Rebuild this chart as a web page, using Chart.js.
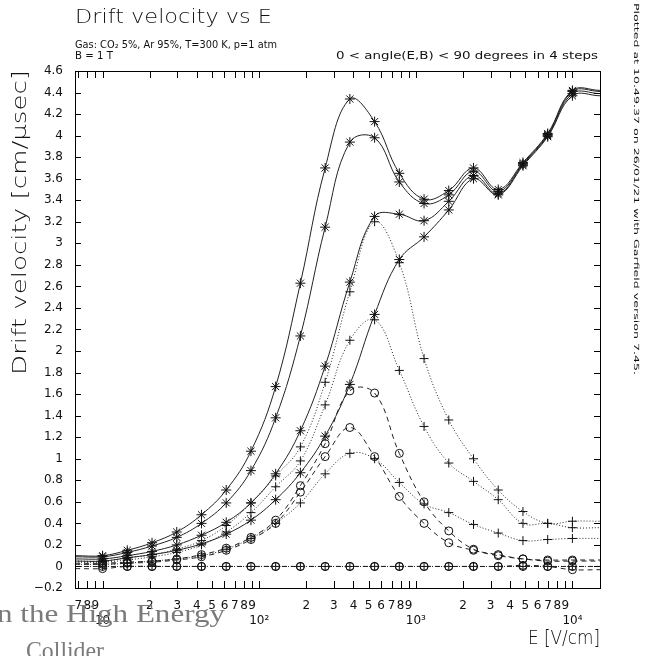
<!DOCTYPE html>
<html>
<head>
<meta charset="utf-8">
<script src="https://cdn.jsdelivr.net/npm/chart.js@4/dist/chart.umd.min.js"></script>
<style>
  html, body { margin: 0; padding: 0; background: #fff; }
  canvas { display: block; }
</style>
</head>
<body>
<canvas id="chart" width="648" height="656"></canvas>
<script>
// E field points [V/cm], 20 log-spaced steps
const eField = [10, 14.38, 20.69, 29.76, 42.81, 61.58, 88.59, 127.4, 183.3, 263.7,
                379.3, 545.6, 784.8, 1129, 1624, 2336, 3360, 4833, 6952, 10000];

// solid + stars: drift velocity, one per angle
const starA = [0.10,0.15,0.22,0.32,0.48,0.71,1.07,1.67,2.63,3.70,4.34,4.13,3.65,3.41,3.49,3.70,3.50,3.75,4.02,4.42];
const starB = [0.09,0.13,0.19,0.27,0.40,0.59,0.89,1.38,2.14,3.15,3.94,3.98,3.57,3.37,3.45,3.67,3.48,3.74,4.01,4.41];
const starC = [0.07,0.10,0.14,0.20,0.29,0.41,0.59,0.86,1.26,1.86,2.64,3.25,3.27,3.21,3.39,3.63,3.46,3.73,4.00,4.39];
const starD = [0.05,0.08,0.11,0.15,0.21,0.30,0.43,0.62,0.87,1.21,1.69,2.34,2.85,3.06,3.31,3.60,3.45,3.72,3.99,4.37];

// dotted + crosses
const plusA = [0,0,0,0,0,0,0,0,0,0,0,0,0,0,0,0,0,0,0,0];
const plusB = [0.02,0.03,0.05,0.07,0.10,0.16,0.26,0.40,0.59,0.86,1.05,1.00,0.78,0.58,0.50,0.39,0.31,0.24,0.25,0.26];
const plusC = [0.04,0.06,0.09,0.13,0.20,0.32,0.50,0.74,0.98,1.50,2.10,2.29,1.82,1.30,0.96,0.79,0.62,0.40,0.40,0.36];
const plusD = [0.05,0.08,0.11,0.16,0.24,0.38,0.59,0.84,1.11,1.71,2.55,3.20,2.82,1.93,1.36,1.00,0.71,0.51,0.40,0.42];

// dashed + circles
const circA = [0,0,0,0,0,0,0,0,0,0,0,0,0,0,0,0,0,0,0,0];
const circB = [0.03,0.04,0.05,0.07,0.11,0.17,0.27,0.43,0.75,1.14,1.63,1.61,1.05,0.60,0.33,0.16,0.11,0.07,0.06,0.06];
const circC = [0.02,0.03,0.04,0.06,0.09,0.15,0.25,0.40,0.69,1.02,1.29,1.02,0.65,0.40,0.22,0.15,0.10,0.07,0.05,0.05];
const circD = [-0.02,0,0,0,0,0,0,0,0,0,0,0,0,0,0,0,0,0.01,0,-0.03];

const xMin = 6.667, xMax = 15000;
const xTicks = [7,8,9,10,20,30,40,50,60,70,80,90,100,200,300,400,500,600,700,800,900,
                1000,2000,3000,4000,5000,6000,7000,8000,9000,10000];
const xTickLabels = ['7','8','9',['','10'],'2','3','4','5','6','7','8','9',['','10²'],
                     '2','3','4','5','6','7','8','9',['','10³'],'2','3','4','5','6','7','8','9',['','10⁴']];
const yTicks = [-0.2,0,0.2,0.4,0.6,0.8,1,1.2,1.4,1.6,1.8,2,2.2,2.4,2.6,2.8,3,3.2,3.4,3.6,3.8,4,4.2,4.4,4.6];

const INK = "#111";
const LINE = "#222";

function makeSet(vals, style, dash, r) {
  const last = eField.length + 1;
  return {
    data: [{x: xMin, y: vals[0]}, ...eField.map((e, i) => ({x: e, y: vals[i]})), {x: xMax, y: vals[vals.length - 1]}],
    borderColor: LINE,
    borderWidth: 1,
    borderDash: dash,
    backgroundColor: "rgba(0,0,0,0)",
    pointStyle: style,
    pointBorderColor: INK,
    pointBorderWidth: 1,
    pointRadius: ctx => (ctx.dataIndex === 0 || ctx.dataIndex === last) ? 0 : r,
    tension: 0.4,
    fill: false,
  };
}

function fitText(ctx, str, x, y, w, font, align, rot, color) {
  ctx.save();
  ctx.font = font;
  ctx.fillStyle = color || INK;
  ctx.translate(x, y);
  if (rot) ctx.rotate(rot);
  const m = ctx.measureText(str).width;
  ctx.scale(w / m, 1);
  ctx.textBaseline = "middle";
  ctx.textAlign = "left";
  const ox = align === "right" ? -m : align === "center" ? -m / 2 : 0;
  ctx.fillText(str, ox, 0);
  ctx.restore();
}

const frame = {
  id: "frame",
  afterDatasetsDraw(chart) {
    const {ctx, chartArea: a, scales: {x, y}} = chart;
    ctx.save();
    ctx.strokeStyle = "#000";
    ctx.lineWidth = 1;
    ctx.strokeRect(a.left + 0.5, a.top + 0.5, a.right - a.left, a.bottom - a.top);
    ctx.beginPath();
    y.ticks.forEach(t => {
      const py = Math.round(y.getPixelForValue(t.value)) + 0.5;
      ctx.moveTo(a.left, py); ctx.lineTo(a.left + 6, py);
      ctx.moveTo(a.right, py); ctx.lineTo(a.right - 6, py);
    });
    x.ticks.forEach(t => {
      const px = Math.round(x.getPixelForValue(t.value)) + 0.5;
      ctx.moveTo(px, a.bottom); ctx.lineTo(px, a.bottom - 7);
      ctx.moveTo(px, a.top); ctx.lineTo(px, a.top + 7);
    });
    ctx.stroke();
    ctx.restore();

    const thin = "'DejaVu Sans'";
    fitText(ctx, "Drift velocity vs E", 75, 18, 197, `200 19px ${thin}`, "left");
    fitText(ctx, "Gas: CO₂ 5%, Ar 95%, T=300 K, p=1 atm", 75, 45, 202, `10px ${thin}`, "left");
    fitText(ctx, "B = 1 T", 75, 56, 38, `10px ${thin}`, "left");
    fitText(ctx, "0 < angle(E,B) < 90 degrees in 4 steps", 598, 56, 262, `10px ${thin}`, "right");
    fitText(ctx, "Drift velocity [cm/μsec]", 21, 375, 305, `200 20px ${thin}`, "left", -Math.PI / 2);
    fitText(ctx, "E [V/cm]", 600, 639, 72, `200 20px ${thin}`, "right");
    fitText(ctx, "Plotted at 10.49.37 on 26/01/21 with Garfield version 7.45.", 636, 3, 372, `7px ${thin}`, "left", Math.PI / 2);
    fitText(ctx, "n the High Energy", -3, 615, 228, "26px 'Liberation Serif'", "left", 0, "#7a7a7a");
    fitText(ctx, "Collider", 26, 652, 78, "26px 'Liberation Serif'", "left", 0, "#7a7a7a");
  }
};

new Chart(document.getElementById("chart"), {
  type: "line",
  data: {
    datasets: [
      makeSet(circA, "circle", [5, 4], 4),
      makeSet(circD, "circle", [5, 4], 4),
      makeSet(circC, "circle", [5, 4], 4),
      makeSet(circB, "circle", [5, 4], 4),
      makeSet(plusA, "cross", [1, 2], 4.5),
      makeSet(plusB, "cross", [1, 2], 4.5),
      makeSet(plusC, "cross", [1, 2], 4.5),
      makeSet(plusD, "cross", [1, 2], 4.5),
      makeSet(starD, "star", [], 5),
      makeSet(starC, "star", [], 5),
      makeSet(starB, "star", [], 5),
      makeSet(starA, "star", [], 5),
    ]
  },
  options: {
    responsive: false,
    animation: false,
    layout: { padding: { left: 0, right: 48, top: 71, bottom: 0 } },
    plugins: { legend: { display: false }, tooltip: { enabled: false } },
    scales: {
      x: {
        type: "logarithmic",
        min: xMin, max: xMax,
        afterBuildTicks: s => { s.ticks = xTicks.map(v => ({ value: v })); },
        afterFit: s => { s.height = 68; },
        grid: { display: false },
        border: { display: false },
        ticks: {
          autoSkip: false, maxRotation: 0, minRotation: 0, padding: 3,
          color: INK, font: { family: "DejaVu Sans", size: 12 },
          callback: (v, i) => xTickLabels[i],
        }
      },
      y: {
        min: -0.2, max: 4.6,
        afterBuildTicks: s => { s.ticks = yTicks.map(v => ({ value: v })); },
        afterFit: s => { s.width = 75; },
        grid: { display: false },
        border: { display: false },
        ticks: {
          padding: 4,
          color: INK, font: { family: "DejaVu Sans", size: 12 },
          callback: v => v < 0 ? "−" + Math.abs(v).toFixed(1) : String(Number(v.toFixed(1))),
        }
      }
    }
  },
  plugins: [frame]
});
</script>
</body>
</html>
